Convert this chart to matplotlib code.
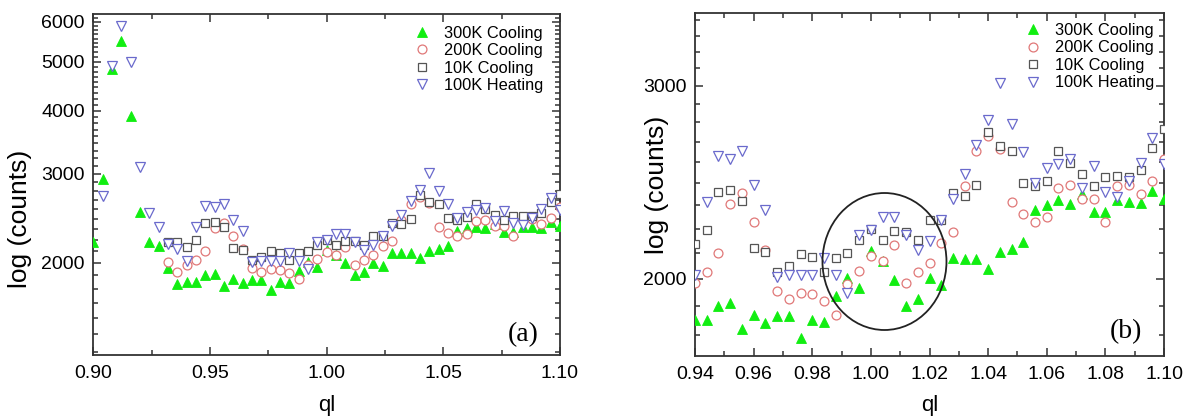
import numpy as np
import matplotlib
matplotlib.use('Agg')
import matplotlib.pyplot as plt
from matplotlib import font_manager
from matplotlib.ticker import FixedLocator, MultipleLocator, FormatStrFormatter, NullFormatter
from matplotlib.patches import Ellipse

plt.rcParams['font.family'] = ['Liberation Sans', 'DejaVu Sans']

nan = np.nan

# ---------------- data ----------------
ql = [0.900, 0.904, 0.908, 0.912, 0.916, 0.920, 0.924, 0.928, 0.932, 0.936,
      0.940, 0.944, 0.948, 0.952, 0.956, 0.960, 0.964, 0.968, 0.972, 0.976,
      0.980, 0.984, 0.988, 0.992, 0.996, 1.000, 1.004, 1.008, 1.012, 1.016,
      1.020, 1.024, 1.028, 1.032, 1.036, 1.040, 1.044, 1.048, 1.052, 1.056,
      1.060, 1.064, 1.068, 1.072, 1.076, 1.080, 1.084, 1.088, 1.092, 1.096,
      1.100]

cool300 = [2198, 2925, 4830, 5504, 3910, 2524, 2195, 2158, 1950, 1815,
           1832, 1835, 1889, 1900, 1800, 1854, 1822, 1848, 1848, 1765,
           1835, 1826, 1927, 2003, 1961, 2118, 2074, 1996, 1890, 1917,
           2001, 1974, 2089, 2086, 2086, 2041, 2114, 2130, 2159, 2309,
           2337, 2357, 2342, 2387, 2299, 2302, 2357, 2349, 2346, 2403,
           2365]

cool200 = [nan, nan, nan, nan, nan, nan, nan, nan, 2004, 1914,
           1982, 2028, 2111, 2342, 2395, 2254, 2126, 1950, 1918, 1941,
           1938, 1910, 1854, 1978, 2031, 2099, 2074, 2145, 1982, 2027,
           2069, 2155, 2204, 2428, 2614, 2699, 2624, 2350, 2292, 2254,
           2275, 2421, 2434, 2362, 2362, 2254, 2428, 2437, 2387, 2454,
           2573]

cool10 = [nan, nan, nan, nan, nan, nan, nan, nan, 2201, 2201,
          2149, 2214, 2398, 2409, 2353, 2134, 2116, 2028, 2055, 2107,
          2091, 2027, 2089, 2111, 2168, 2220, 2171, 2209, 2204, 2168,
          2261, 2261, 2392, 2381, 2437, 2719, 2643, 2614, 2446, 2428,
          2458, 2614, 2550, 2490, 2432, 2478, 2479, 2478, 2512, 2633,
          2738]

heat100 = [nan, 2711, 4906, 5886, 4988, 3099, 2506, 2357, 2178, 2129,
           2017, 2349, 2587, 2573, 2614, 2433, 2309, 2007, 2014, 2017,
           2017, 2089, 2017, 1941, 2194, 2217, 2277, 2277, 2194, 2122,
           2163, 2261, 2362, 2490, 2648, 2791, 3015, 2770, 2609, 2446,
           2525, 2543, 2570, 2421, 2533, 2398, 2375, 2454, 2552, 2690,
           2543]

labels = ['300K Cooling', '200K Cooling', '10K Cooling', '100K Heating']

left_yticks = [2000, 3000, 4000, 5000, 6000]
right_yticks = [2000, 3000]

# ---------------- styles ----------------
GREEN = '#11ee11'
RED = '#e07878'
GRAY = '#555555'
BLUE = '#6a6acc'
SPINE = '#333333'

# condensed face for tick labels when available
try:
    font_manager.findfont(font_manager.FontProperties(family='Liberation Sans Narrow'),
                          fallback_to_default=False)
    TICK_FAMILY, TICK_SIZE = 'Liberation Sans Narrow', 15.5
except Exception:
    TICK_FAMILY, TICK_SIZE = 'Liberation Sans', 14

W, H = 1186, 420
fig = plt.figure(figsize=(W / 100, H / 100), dpi=100)
axL = fig.add_axes([93.3 / W, 1 - 355 / H, (560 - 93.3) / W, (355 - 14) / H])
axR = fig.add_axes([695 / W, 1 - 356 / H, (1164 - 695) / W, (356 - 13) / H])


def draw(ax):
    ax.plot(ql, cool300, ls='none', marker='^', ms=7.6, mfc=GREEN, mec=GREEN,
            mew=0.6, label=labels[0], zorder=3)
    ax.plot(ql, cool200, ls='none', marker='o', ms=6.4, mfc='white', mec=RED,
            mew=0.9, label=labels[1], zorder=4)
    ax.plot(ql, cool10, ls='none', marker='s', ms=5.8, mfc='white', mec=GRAY,
            mew=0.9, label=labels[2], zorder=5)
    ax.plot(ql, heat100, ls='none', marker='v', ms=7.6, mfc='white', mec=BLUE,
            mew=0.9, label=labels[3], zorder=6)


def style(ax, xlim, ylim, xmaj, xmin, yticks):
    ax.set_yscale('log')
    ax.set_xlim(*xlim)
    ax.set_ylim(*ylim)
    ax.xaxis.set_major_locator(MultipleLocator(xmaj))
    ax.xaxis.set_minor_locator(MultipleLocator(xmin))
    ax.xaxis.set_major_formatter(FormatStrFormatter('%.2f'))
    ax.yaxis.set_major_locator(FixedLocator(yticks))
    ax.yaxis.set_major_formatter(FormatStrFormatter('%d'))
    ax.yaxis.set_minor_locator(MultipleLocator(1000 / 9))
    ax.yaxis.set_minor_formatter(NullFormatter())
    ax.tick_params(which='both', direction='in', top=True, right=True,
                   color=SPINE, labelcolor='black', labelsize=TICK_SIZE, width=1.1)
    ax.tick_params(which='major', length=6)
    ax.tick_params(axis='x', which='major', pad=7)
    ax.tick_params(axis='y', which='major', pad=6)
    ax.tick_params(which='minor', length=3.3)
    for lab in ax.get_xticklabels() + ax.get_yticklabels():
        lab.set_family(TICK_FAMILY)
    for s in ax.spines.values():
        s.set_linewidth(1.3)
        s.set_color(SPINE)


for ax in (axL, axR):
    draw(ax)

style(axL, (0.90, 1.10), (1313, 6212), 0.05, 0.025, left_yticks)
style(axR, (0.94, 1.10), (1700, 3495), 0.02, 0.01, right_yticks)

leg_kw = dict(frameon=False, fontsize=11.8, loc='upper left', borderpad=0,
              borderaxespad=0, handlelength=1.0, handletextpad=0.86,
              labelspacing=0.15, numpoints=1)
axL.legend(bbox_to_anchor=(0.686, 0.966), **leg_kw)
axR.legend(bbox_to_anchor=(0.7026, 0.971), **leg_kw)

# panel tags
axL.text(0.921, 0.059, '(a)', transform=axL.transAxes, fontsize=20,
         family='Liberation Serif', ha='center', va='center')
axR.text(0.919, 0.071, '(b)', transform=axR.transAxes, fontsize=20,
         family='Liberation Serif', ha='center', va='center')

# highlighted region in panel (b)
axR.add_patch(Ellipse((0.404, 0.2755), 0.2644, 0.3994, transform=axR.transAxes,
                      fill=False, ec='#222222', lw=1.3, zorder=7))

# axis titles
fig.text(20 / W, 1 - 219 / H, 'log (counts)', rotation=90, fontsize=19,
         ha='center', va='center')
fig.text(657 / W, 1 - 185 / H, 'log (counts)', rotation=90, fontsize=19,
         ha='center', va='center')
fig.text(326.7 / W, 1 - 405 / H, 'ql', fontsize=16, ha='center', va='center')
fig.text(929.5 / W, 1 - 405 / H, 'ql', fontsize=16, ha='center', va='center')

fig.savefig('out.png', dpi=100)
